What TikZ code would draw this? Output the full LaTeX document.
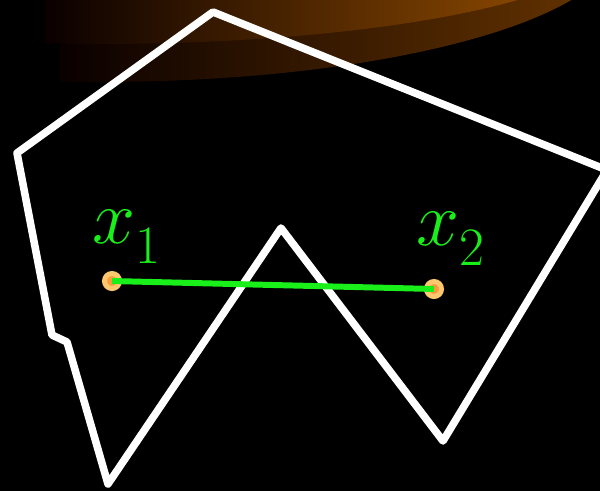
\RequirePackage{fix-cm}
\documentclass[tikz,border=0pt]{standalone}
\definecolor{segGreen}{HTML}{19F019}
\definecolor{dotOuter}{HTML}{FFC76E}
\definecolor{dotInner}{HTML}{FF9A3C}
\definecolor{capDark}{HTML}{683500}
\definecolor{capLight}{HTML}{A05400}
\definecolor{capLeft}{HTML}{0A0000}

\begin{document}
\begin{tikzpicture}[x=0.02cm,y=-0.02cm,
  edge/.style={white,line width=4.3pt,line join=round},
  pt/.style={circle,fill=dotInner,draw=dotOuter,line width=2.85pt,
    minimum size=0.3cm,inner sep=0pt},
  seg/.style={segGreen,line width=3.4pt},
  lbl/.style={text=segGreen,font=\fontsize{44}{52}\selectfont,
    inner sep=0pt,anchor=base west}
]
  \fill[black] (0,0) rectangle (600,491);
  \clip (0,0) rectangle (600,491);
  % shaded cap at the top
  \begin{scope}
    \clip (100,-60) ellipse [x radius=10.4cm,y radius=2.84cm];
    \shade[left color=capLeft,right color=capDark] (60,-220) rectangle (620,100);
  \end{scope}
  \begin{scope}
    \clip (100,-60) ellipse [x radius=10.22cm,y radius=2.08cm];
    \shade[left color=capLeft,right color=capLight] (45,-220) rectangle (620,100);
  \end{scope}
  % the polygon
  \draw[edge] (213,12) -- (607,170) -- (443,441) -- (281,228) -- (108,484)
    -- (67,342) -- (52,335) -- (17,153) -- cycle;
  % the two points and their segment
  \node[pt] (x1) at (112,281) {};
  \node[pt] (x2) at (434,289) {};
  \draw[seg] (x1.center) -- (x2.center);
  \node[lbl] (lx1) at (92,243) {$x_{\lower5pt\hbox{$\scriptstyle 1$}}$};
  \node[lbl] (lx2) at (416,245) {$x_{\lower5pt\hbox{$\scriptstyle 2$}}$};
\end{tikzpicture}
\end{document}
